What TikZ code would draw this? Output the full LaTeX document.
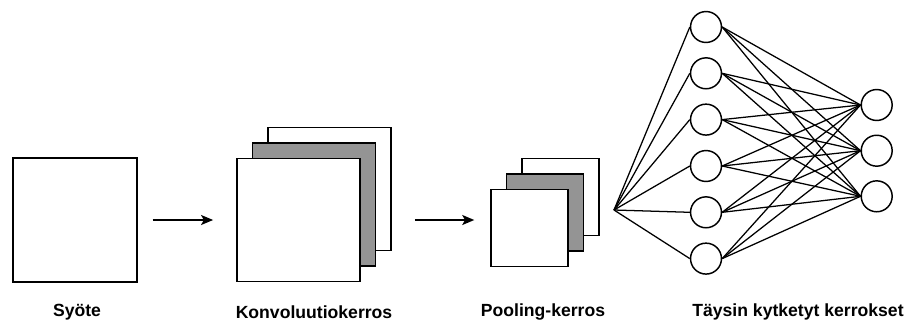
\documentclass[tikz,border=0pt]{standalone}
\usepackage{fontspec}
\setmainfont{Liberation Sans}
\usetikzlibrary{arrows.meta}
\begin{document}
\begin{tikzpicture}[x=0.75pt,y=-0.75pt,
  line width=1.1pt,
  sq/.style={draw, fill=white, inner sep=0pt, minimum width=#1, minimum height=#1},
  sqg/.style={sq=#1, fill=black!42},
  neuron/.style={draw, circle, fill=white, inner sep=0pt, minimum size=23.2pt},
  lbl/.style={font=\fontsize{13.2}{15}\selectfont\bfseries, inner sep=0pt},
  arr/.style={-{Stealth[length=9pt,width=7.5pt,inset=2pt]}},
  conn/.style={line width=0.95pt}]
\useasboundingbox (0,0) rectangle (905,322);
% Input
\node[sq=93pt] (in) at (75,220) {};
% Convolution stack
\node[sq=92.5pt] (c3) at (329.5,189) {};
\node[sqg=92.5pt] (c2) at (314,204.5) {};
\node[sq=92.5pt] (c1) at (298.5,220) {};
% Pooling stack
\node[sq=57.75pt] (p3) at (560.5,197) {};
\node[sqg=57.75pt] (p2) at (545,212.5) {};
\node[sq=57.75pt] (p1) at (529.5,228) {};
% Arrows
\draw[arr, shorten <=11.25pt, shorten >=17.25pt] (in) -- (c1);
\draw[arr, shorten <=40.5pt, shorten >=12pt] (c1.east) -- (p1.west |- c1.east);
% Fully connected
\coordinate (fc) at (614,210);
\foreach \i/\y in {1/27,2/73.3,3/119.6,4/166,5/212.3,6/258.6}
  \node[neuron] (l\i) at (706,\y) {};
\foreach \j/\y in {1/105,2/150.7,3/196.3}
  \node[neuron] (r\j) at (876.7,\y) {};
\foreach \i in {1,...,6} {
  \draw[conn] (fc) -- (l\i.west);
  \foreach \j in {1,2,3}
    \draw[conn] (l\i.east) -- (r\j.west);
}
% Labels
\node[lbl] (t1) at (77,312) {Syöte};
\node[lbl] (t2) at (314,312) {Konvoluutiokerros};
\node[lbl] (t3) at (543,312) {Pooling-kerros};
\node[lbl] (t4) at (798,312) {Täysin kytketyt kerrokset};
\end{tikzpicture}
\end{document}
